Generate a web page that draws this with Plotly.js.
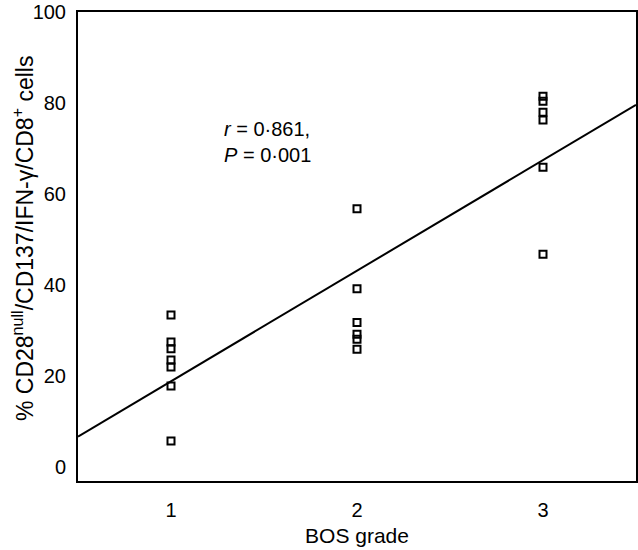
<!DOCTYPE html>
<html>
<head>
<meta charset="utf-8">
<script src="https://cdn.plot.ly/plotly-3.0.1.min.js"></script>
<style>html,body{margin:0;padding:0;background:#fff;}#chart{width:638px;height:550px;}</style>
</head>
<body>
<div id="chart"></div>
<script>
const grade1 = [33.4, 27.5, 26.0, 23.5, 22.0, 17.8, 5.7];
const grade2 = [56.8, 39.2, 31.8, 29.2, 28.1, 25.9];
const grade3 = [81.5, 80.4, 78.0, 76.3, 65.9, 46.8];
const gradeLabels = ['1', '2', '3'];
const gradeValues = [1, 2, 3];
const yTickVals = [0, 20, 40, 60, 80, 100];
const lineX = [0.5, 3.5];

const xs = [], ys = [];
[grade1, grade2, grade3].forEach((g, i) => g.forEach(v => { xs.push(gradeValues[i]); ys.push(v); }));

// least-squares regression line
const n = xs.length;
const mx = xs.reduce((a, b) => a + b, 0) / n;
const my = ys.reduce((a, b) => a + b, 0) / n;
let sxy = 0, sxx = 0;
for (let i = 0; i < n; i++) { sxy += (xs[i] - mx) * (ys[i] - my); sxx += (xs[i] - mx) ** 2; }
const slope = sxy / sxx, icpt = my - slope * mx;
const lineY = lineX.map(x => icpt + slope * x);

const fam = 'Liberation Sans, Arial, sans-serif';
const tickFont = {family: fam, size: 20, color: '#000'};
const titleFont = {family: fam, size: 21, color: '#000'};
const yTitleFont = {family: fam, size: 23, color: '#000'};

const traces = [
  {x: lineX, y: lineY, mode: 'lines', line: {color: '#000', width: 2}, hoverinfo: 'skip', showlegend: false},
  {x: xs, y: ys, mode: 'markers', marker: {symbol: 'square-open', size: 7, color: '#000', line: {width: 2, color: '#000'}}, showlegend: false}
];

const layout = {
  width: 638, height: 550,
  margin: {l: 78, r: 2, t: 12, b: 69},
  paper_bgcolor: '#fff', plot_bgcolor: '#fff',
  font: tickFont,
  showlegend: false,
  xaxis: {
    range: [0.5, 3.5], tickvals: gradeValues, ticktext: gradeLabels,
    showline: true, mirror: true, linecolor: '#000', linewidth: 2,
    ticks: '', showgrid: false, zeroline: false, ticklabelstandoff: 10,
    tickfont: tickFont,
    title: {text: 'BOS grade', font: titleFont, standoff: 8}
  },
  yaxis: {
    range: [-3.08, 100.05], tickvals: yTickVals,
    showline: true, mirror: true, linecolor: '#000', linewidth: 2,
    ticks: '', showgrid: false, zeroline: false, ticklabelstandoff: 6,
    tickfont: tickFont
  },
  annotations: [{
    xref: 'paper', yref: 'paper', x: 0.258, y: 0.722, xanchor: 'left', yanchor: 'middle',
    align: 'left', showarrow: false, font: tickFont,
    text: '<i>r</i> = 0·861,<br><i>P</i> = 0·001'
  }, {
    xref: 'paper', yref: 'paper', x: -0.0986, y: 0.518, xanchor: 'center', yanchor: 'middle',
    textangle: -90, showarrow: false, font: yTitleFont,
    text: '% CD28<sup>null</sup>/CD137/IFN-γ/CD8<sup>+</sup> cells'
  }]
};

Plotly.newPlot('chart', traces, layout, {displayModeBar: false, staticPlot: true});
</script>
</body>
</html>
